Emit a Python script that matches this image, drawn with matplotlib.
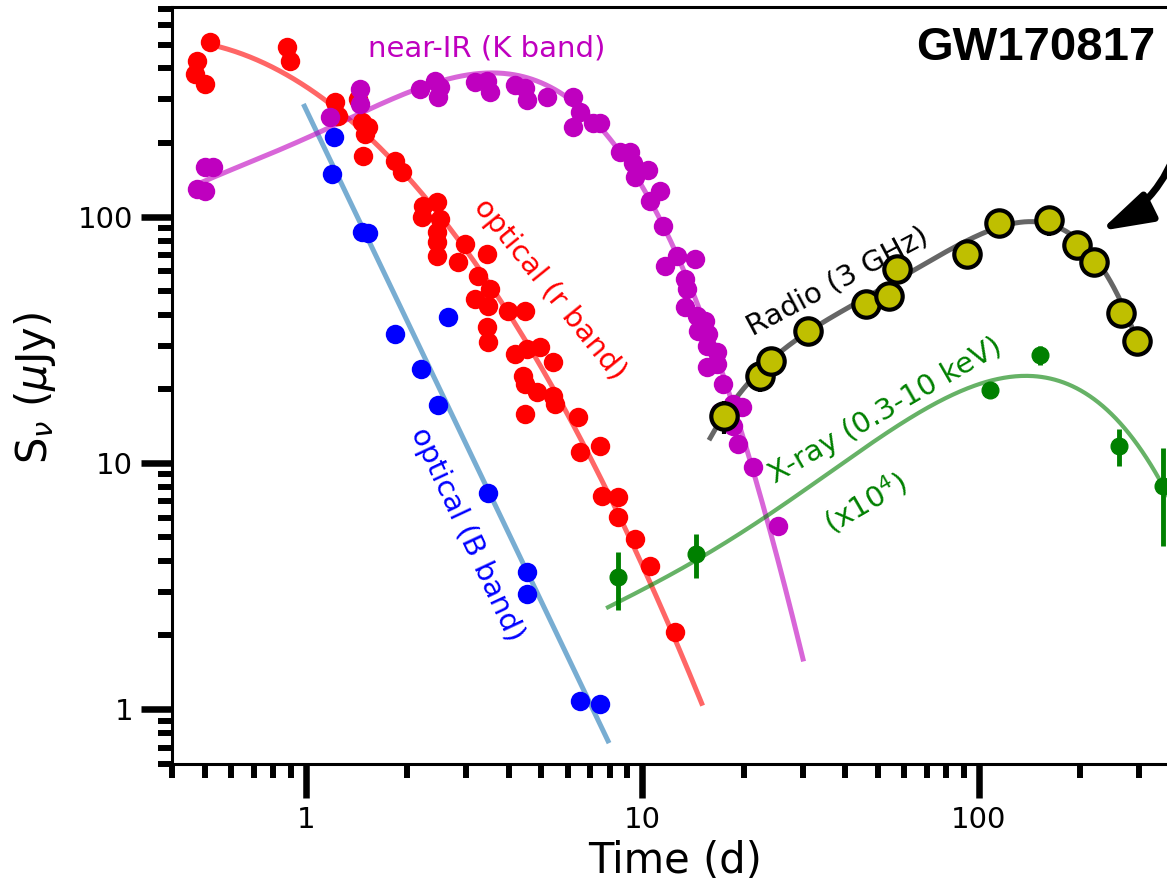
import numpy as np
import matplotlib.pyplot as plt

# optical B band
b_time = [1.21, 1.195, 1.467, 1.528, 1.838, 2.197, 2.468, 2.642, 3.474,
          4.537, 4.537, 6.52, 7.48]
b_flux = [211, 149, 86.7, 85.9, 33.4, 24.1, 17.2, 39.1, 7.55,
          3.61, 2.94, 1.08, 1.05]

# optical r band
r_time = [0.519, 0.474, 0.468, 0.501, 0.878, 0.896, 1.22, 1.245, 1.427, 1.467,
          1.528, 1.497, 1.477, 1.838, 1.929, 2.227, 2.451, 2.212, 2.502, 2.451,
          2.451, 2.451, 2.969, 3.451, 2.829, 3.245, 3.523, 3.179, 3.474, 3.984,
          4.475, 3.451, 3.474, 4.18, 4.537, 4.959, 5.42, 4.414, 4.475, 4.859,
          5.42, 5.495, 4.475, 6.43, 6.52, 7.48, 7.58, 8.46, 8.46, 9.5,
          10.53, 12.5]
r_flux = [512, 429, 380, 346, 489, 429, 292, 256, 301, 242,
          231, 217, 176, 168, 152, 110.5, 114.7, 99.7, 97.9, 86.7,
          78.9, 69.3, 77.5, 70.6, 65.5, 57.4, 50.9, 46.3, 43.4, 41.4,
          41.4, 35.7, 31.0, 27.7, 29.0, 29.6, 25.7, 22.6, 20.9, 19.4,
          18.7, 17.4, 15.8, 15.4, 11.1, 11.7, 7.35, 7.28, 6.04, 4.91,
          3.82, 2.06]

# near-IR K band
k_time = [0.474, 0.501, 0.501, 0.529, 1.178, 1.447, 1.447, 2.183, 2.417, 2.502,
          2.468, 3.179, 3.451, 3.523, 4.18, 4.475, 4.537, 5.203, 6.217, 6.52,
          6.217, 7.13, 7.48, 8.57, 9.18, 9.37, 9.5, 10.38, 11.27, 10.53,
          11.51, 11.67, 12.66, 14.32, 13.38, 13.56, 13.38, 14.52, 15.34, 14.62,
          15.65, 15.55, 16.65, 15.55, 16.65, 17.35, 16.99, 18.57, 19.75, 18.57,
          19.22, 21.3, 25.27]
k_flux = [129.6, 127.2, 159.2, 159.2, 254, 330, 286.8, 330, 355.6, 336.3,
          306.2, 352.3, 355.6, 320.8, 342.4, 333, 297.8, 306.2, 306.2, 266.2,
          231.3, 240, 240, 183.1, 183.1, 165.2, 145, 154.7, 127.2, 115.8,
          91.7, 63.2, 69.4, 67.5, 56.0, 50.9, 43.0, 39.5, 37.7, 34.4,
          33.4, 29.9, 28.2, 24.5, 25.2, 20.9, 16.1, 17.4, 16.9, 14.1,
          11.9, 9.63, 5.55]

# radio 3 GHz
radio_time = [17.5, 22.3, 24.1, 31.0, 46.1, 54.0, 57.1, 92.1, 114.5, 161.4,
              195.6, 219.6, 264, 295]
radio_flux = [15.5, 22.5, 25.9, 34.3, 44.2, 47.6, 61.4, 70.6, 94.5, 97.2,
              76.9, 65.6, 40.7, 31.3]
radio_err = [2.4, 3.1, 2.5, 3.0, 3.5, 3.5, 4.5, 5.0, 7.0, 13.5,
             6.0, 5.5, 4.0, 3.0]

# X-ray 0.3-10 keV, scaled by 1e4
xray_time = [8.46, 14.4, 108, 152, 261, 352]
xray_flux = [3.44, 4.28, 19.8, 27.5, 11.7, 8.05]
xray_err = [0.9, 0.88, 1.0, 2.5, 2.0, 3.45]

# model light curves (time, flux) along each fit
b_model_t = [0.99, 7.9]
b_model_f = [281, 0.745]
r_model_t = [0.53, 1.20, 1.86, 3.96, 5.97, 8.17, 10.0, 15.0]
r_model_f = [502, 274, 167, 39.6, 16.1, 7.6, 3.6, 1.05]
k_model_t = [0.494, 0.607, 0.766, 0.96, 1.18, 1.52, 1.91, 2.62, 3.22, 4.12,
             5.2, 6.5, 8.2, 10.3, 12.1, 13.8, 20.4, 21.9, 25.6, 30.0]
k_model_f = [142, 152, 172, 207, 233, 274, 321, 363, 373, 363,
             330, 274, 207, 133, 87, 49, 9.7, 8.1, 4.6, 1.5]
radio_model_t = [15.9, 20.4, 27.4, 43.4, 57, 92, 115, 142, 163, 200, 229, 257, 295]
radio_model_f = [12.5, 21.3, 29.9, 43.4, 57.4, 78.9, 91.6, 95, 93.5, 78.9, 63, 49.5, 31.3]
xray_model_t = [7.9, 14.5, 25.6, 50.8, 100.7, 142, 199, 281, 345]
xray_model_f = [2.59, 4.08, 6.6, 12.5, 21.4, 22.8, 19.5, 12.9, 8.6]


def smooth(t, f, deg, t0, t1):
    c = np.polyfit(np.log10(t), np.log10(f), deg)
    tt = np.logspace(np.log10(t0), np.log10(t1), 400)
    return tt, 10 ** np.polyval(c, np.log10(tt))


fig = plt.figure(figsize=(11.67, 8.85), dpi=100)
ax = fig.add_axes([0.1474, 0.1367, 0.9798, 0.8553])
ax.set_xscale('log')
ax.set_yscale('log')

lw = 3.6
ax.plot(*smooth(b_model_t, b_model_f, 1, 0.99, 7.9), color='C0', alpha=0.6, lw=lw, zorder=2)
ax.plot(*smooth(r_model_t, r_model_f, 2, 0.53, 15.0), color='r', alpha=0.6, lw=lw, zorder=2)
ax.plot(*smooth(k_model_t, k_model_f, 5, 0.494, 30.0), color='m', alpha=0.6, lw=lw, zorder=2)
ax.plot(*smooth(radio_model_t, radio_model_f, 4, 15.9, 300), color='k', alpha=0.6, lw=lw, zorder=2)
ax.plot(*smooth(xray_model_t, xray_model_f, 4, 7.9, 420), color='g', alpha=0.6, lw=3.0, zorder=2)

ax.plot(b_time, b_flux, 'o', color='b', ms=14, mew=0, zorder=3)
ax.plot(r_time, r_flux, 'o', color='r', ms=14, mew=0, zorder=3)
ax.plot(k_time, k_flux, 'o', color='m', ms=14, mew=0, zorder=3)
ax.errorbar(xray_time, xray_flux, yerr=xray_err, fmt='o', color='g', ms=12,
            elinewidth=3.5, capsize=0, zorder=3)
ax.errorbar(radio_time, radio_flux, yerr=radio_err, fmt='o', mfc='y', mec='k',
            ecolor='k', ms=19, mew=3, elinewidth=3, capsize=0, zorder=4)

fs = 21
ax.text(3.45, 480, 'near-IR (K band)', color='m', fontsize=fs, ha='center', va='center')
ax.text(5.31, 50.9, 'optical (r band)', color='r', fontsize=fs, rotation=-51,
        ha='center', va='center', rotation_mode='anchor')
ax.text(3.01, 5.15, 'optical (B band)', color='b', fontsize=fs, rotation=-65,
        ha='center', va='center', rotation_mode='anchor')
ax.text(38.1, 54.8, 'Radio (3 GHz)', color='k', fontsize=fs, rotation=28,
        ha='center', va='center', rotation_mode='anchor')
ax.text(52.6, 16.3, 'X-ray (0.3-10 keV)', color='g', fontsize=fs, rotation=30,
        ha='center', va='center', rotation_mode='anchor')
ax.text(45.8, 6.94, r'(x10$^4$)', color='g', fontsize=fs, rotation=30,
        ha='center', va='center', rotation_mode='anchor')

fig.text(0.9897, 0.9458, 'GW170817', fontsize=34, fontweight='bold',
         family='Liberation Sans', ha='right', va='center')

ax.annotate('', xy=(229, 87.5), xytext=(409, 249),
            arrowprops=dict(arrowstyle='-|>,head_length=1.55,head_width=0.47',
                            color='k', lw=5, mutation_scale=20,
                            connectionstyle='arc3,rad=-0.25',
                            shrinkA=0, shrinkB=0))

ax.set_xlim(0.4, 1000)
ax.set_ylim(0.6, 710)
ax.set_xticks([1, 10, 100])
ax.set_xticklabels(['1', '10', '100'])
ax.set_yticks([1, 10, 100])
ax.set_yticklabels(['1', '10', '100'])

for s in ax.spines.values():
    s.set_linewidth(2.2)
ax.tick_params(which='major', direction='out', width=4.7, labelsize=fs)
ax.tick_params(axis='x', which='major', length=24.5, pad=6)
ax.tick_params(axis='y', which='major', length=22, pad=6)
ax.tick_params(which='minor', direction='out', width=4.3, length=10)

ax.set_xlabel('Time (d)', fontsize=30)
ax.set_ylabel(r'S$_\nu$ ($\mu$Jy)', fontsize=30)
ax.xaxis.set_label_coords(0.44, -0.101)
ax.yaxis.set_label_coords(-0.100, 0.497)

fig.savefig('out.png', dpi=100)
